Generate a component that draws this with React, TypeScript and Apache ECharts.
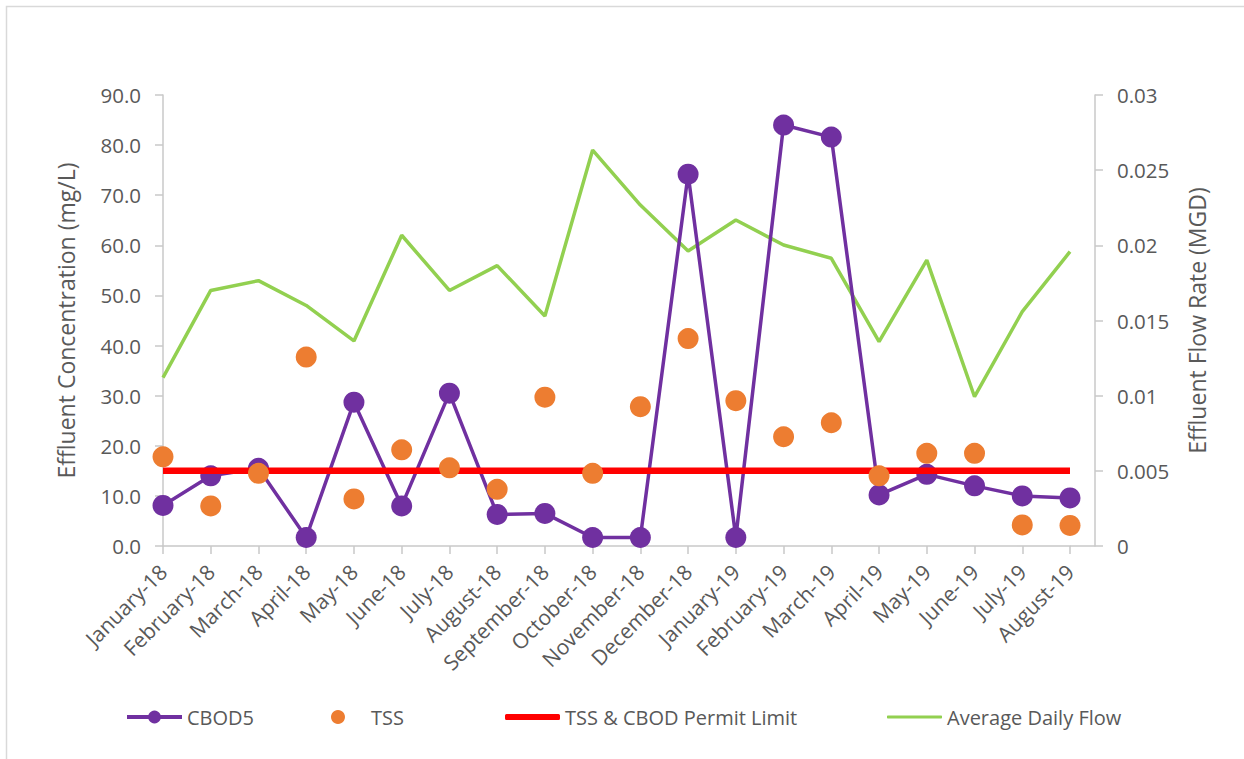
import React, { useEffect, useRef } from "react";
import * as echarts from "echarts";

const months = [
  "January-18", "February-18", "March-18", "April-18", "May-18", "June-18",
  "July-18", "August-18", "September-18", "October-18", "November-18", "December-18",
  "January-19", "February-19", "March-19", "April-19", "May-19", "June-19",
  "July-19", "August-19",
];

const cbod5 = [8.1, 14.0, 15.5, 1.7, 28.7, 8.0, 30.5, 6.3, 6.5, 1.7, 1.7, 74.2, 1.7, 84.0, 81.6, 10.2, 14.3, 12.0, 10.0, 9.6];
const tss = [17.8, 8.0, 14.5, 37.7, 9.4, 19.2, 15.6, 11.3, 29.7, 14.5, 27.8, 41.4, 29.0, 21.8, 24.6, 14.0, 18.5, 18.5, 4.2, 4.1];
const permitLimit = [15, 15, 15, 15, 15, 15, 15, 15, 15, 15, 15, 15, 15, 15, 15, 15, 15, 15, 15, 15];
const avgDailyFlow = [
  0.0112, 0.0170, 0.01765, 0.0160, 0.01364, 0.02067, 0.0170, 0.01865, 0.0153, 0.02634,
  0.02268, 0.01962, 0.02169, 0.02002, 0.01914, 0.01359, 0.01902, 0.00993, 0.01559, 0.01958,
];

const FONT = "'Open Sans', 'Noto Sans', sans-serif";
const TEXT = "#595959";
const AXIS = "#c8c8c8";

export default function App() {
  const ref = useRef<HTMLDivElement>(null);

  useEffect(() => {
    if (!ref.current) return;
    const chart = echarts.init(ref.current, undefined, { renderer: "svg" });

    const legendText = { color: TEXT, fontSize: 20, fontFamily: FONT };
    const legendTop = 702;

    chart.setOption({
      animation: false,
      backgroundColor: "#ffffff",
      textStyle: { fontFamily: FONT },
      grid: { left: 163, right: 174, top: 95, bottom: 213 },
      legend: [
        {
          data: ["CBOD5"], left: 120, top: legendTop, itemWidth: 55, itemHeight: 16,
          lineStyle: { width: 4 }, textStyle: legendText,
        },
        { data: ["TSS"], left: 326, top: legendTop, itemWidth: 56, itemHeight: 14, textStyle: legendText },
        {
          data: [{ name: "TSS & CBOD Permit Limit", icon: "roundRect" }],
          left: 500, top: legendTop, itemWidth: 55, itemHeight: 6, textStyle: legendText,
        },
        {
          data: [{ name: "Average Daily Flow", icon: "roundRect" }],
          left: 882, top: legendTop, itemWidth: 55, itemHeight: 3, textStyle: legendText,
        },
      ],
      xAxis: {
        type: "category",
        data: months,
        boundaryGap: false,
        axisLine: { lineStyle: { color: AXIS, width: 1.5 } },
        axisTick: { show: true, length: 8, lineStyle: { color: AXIS, width: 1.5 } },
        axisLabel: {
          rotate: 45,
          interval: 0,
          margin: 22,
          color: TEXT,
          fontSize: 21,
          fontFamily: FONT,
        },
        splitLine: { show: false },
      },
      yAxis: [
        {
          type: "value",
          min: 0,
          max: 90,
          interval: 10,
          position: "left",
          name: "Effluent Concentration (mg/L)",
          nameLocation: "middle",
          nameGap: 86,
          nameTextStyle: { color: TEXT, fontSize: 23, fontFamily: FONT },
          axisLine: { show: true, lineStyle: { color: AXIS, width: 1.5 } },
          axisTick: { show: true, length: 8, lineStyle: { color: AXIS, width: 1.5 } },
          axisLabel: {
            color: TEXT,
            fontSize: 20.5,
            fontFamily: FONT,
            margin: 22,
            formatter: (v: number) => v.toFixed(1),
          },
          splitLine: { show: false },
        },
        {
          type: "value",
          min: 0,
          max: 0.03,
          interval: 0.005,
          position: "right",
          offset: 25,
          name: "Effluent Flow Rate (MGD)",
          nameLocation: "middle",
          nameGap: 90,
          nameRotate: 90,
          nameTextStyle: { color: TEXT, fontSize: 23, fontFamily: FONT },
          axisLine: { show: true, lineStyle: { color: AXIS, width: 1.5 } },
          axisTick: { show: true, length: 8, lineStyle: { color: AXIS, width: 1.5 } },
          axisLabel: {
            color: TEXT,
            fontSize: 20.5,
            fontFamily: FONT,
            margin: 22,
            formatter: (v: number) => String(Number(v.toFixed(3))),
          },
          splitLine: { show: false },
        },
      ],
      graphic: [
        {
          type: "rect",
          shape: { x: 6.5, y: 6.5, width: 1300, height: 800 },
          style: { fill: "none", stroke: "#d9d9d9", lineWidth: 1.5 },
          silent: true,
        },
        {
          type: "line",
          shape: { x1: 1070, y1: 546, x2: 1095, y2: 546 },
          style: { stroke: AXIS, lineWidth: 1.5 },
          silent: true,
        },
      ],
      series: [
        {
          name: "CBOD5",
          type: "line",
          yAxisIndex: 0,
          data: cbod5,
          z: 3,
          symbol: "circle",
          symbolSize: 21,
          lineStyle: { color: "#7030A0", width: 3.5 },
          itemStyle: { color: "#7030A0" },
        },
        {
          name: "TSS",
          type: "scatter",
          yAxisIndex: 0,
          data: tss,
          z: 5,
          symbol: "circle",
          symbolSize: 21,
          itemStyle: { color: "#ED7D31", opacity: 1 },
        },
        {
          name: "TSS & CBOD Permit Limit",
          type: "line",
          yAxisIndex: 0,
          data: permitLimit,
          z: 4,
          symbol: "none",
          lineStyle: { color: "#FF0000", width: 6.5 },
          itemStyle: { color: "#FF0000" },
        },
        {
          name: "Average Daily Flow",
          type: "line",
          yAxisIndex: 1,
          data: avgDailyFlow,
          z: 2,
          symbol: "none",
          lineStyle: { color: "#92D050", width: 3.5 },
          itemStyle: { color: "#92D050" },
        },
      ],
    });

    return () => chart.dispose();
  }, []);

  return (
    <div
      ref={ref}
      style={{ position: "absolute", left: 0, top: 0, width: 1244, height: 759 }}
    />
  );
}
